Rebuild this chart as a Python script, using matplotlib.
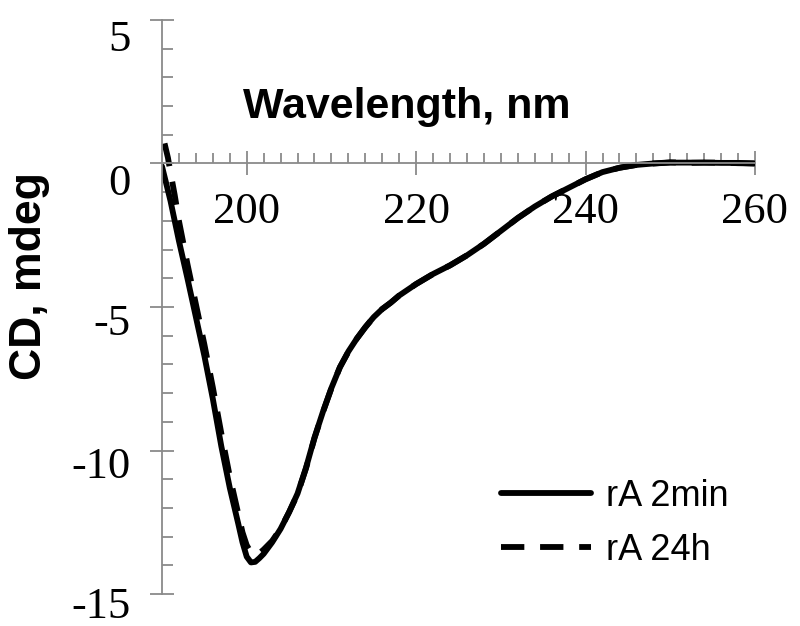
import numpy as np
import matplotlib
matplotlib.use("Agg")
import matplotlib.pyplot as plt
from matplotlib.ticker import MultipleLocator, FixedLocator
from matplotlib.transforms import ScaledTranslation

# CD spectra, wavelength in nm, ellipticity in mdeg
wl_2min = [190, 191, 192, 193, 194, 195, 196, 197, 198, 199, 199.5, 200, 200.5,
           201, 201.5, 202, 203, 204, 205, 206, 207, 208, 209, 210, 211, 212,
           213, 214, 215, 216, 217, 218, 219, 220, 222, 224, 226, 228, 230,
           232, 234, 236, 238, 240, 242, 244, 246, 248, 250, 252, 254, 256,
           258, 260]
cd_2min = [-0.1, -1.3, -2.7, -4.0, -5.35, -6.7, -8.2, -9.85, -11.3, -12.55, -13.2,
           -13.7, -13.9, -13.88, -13.75, -13.6, -13.2, -12.73, -12.15, -11.5,
           -10.6, -9.55, -8.65, -7.82, -7.1, -6.55, -6.1, -5.7, -5.35, -5.07,
           -4.85, -4.6, -4.4, -4.2, -3.85, -3.55, -3.2, -2.8, -2.35, -1.9, -1.5,
           -1.15, -0.85, -0.55, -0.3, -0.15, -0.05, 0.0, 0.03, 0.03, 0.03, 0.02,
           0.02, 0.0]

wl_24h = [190.3, 190.7, 191, 191.5, 192, 193, 194, 195, 196, 197, 198, 199, 199.5,
          200, 200.5, 201, 201.5, 202, 203, 204, 205, 206, 207, 208, 209, 210,
          211, 212, 213, 214, 215, 216, 217, 218, 219, 220, 222, 224, 226, 228,
          230, 232, 234, 236, 238, 240, 242, 244, 246, 248, 250, 252, 254, 256,
          258, 260]
cd_24h = [0.7, 0.2, -0.3, -1.1, -2.0, -3.5, -4.9, -6.3, -7.8, -9.4, -10.9, -12.2,
          -12.85, -13.3, -13.55, -13.62, -13.58, -13.45, -13.15, -12.72, -12.15,
          -11.52, -10.62, -9.57, -8.66, -7.83, -7.1, -6.56, -6.1, -5.71, -5.35,
          -5.07, -4.85, -4.6, -4.4, -4.2, -3.85, -3.55, -3.2, -2.8, -2.35, -1.9,
          -1.5, -1.15, -0.85, -0.55, -0.3, -0.15, -0.05, 0.0, 0.04, 0.02, 0.03,
          0.03, 0.01, 0.0]

y_ticks = [5, 0, -5, -10, -15]
y_labels = ["5", "0", "-5", "-10", "-15"]
x_ticks = [200, 220, 240, 260]

fig = plt.figure(figsize=(8, 6.26), dpi=100)
ax = fig.add_axes([0.2025, 0.0511, 0.74125, 0.917])

ax.plot(wl_2min, cd_2min, color="black", lw=4.2, solid_capstyle="round",
        label="rA 2min")
ax.plot(wl_24h, cd_24h, color="black", lw=4.2, dashes=(4, 2.7),
        label="rA 24h")

ax.set_xlim(190, 260)
ax.set_ylim(-15, 5)

axis_grey = "#8a8a8a"
for side in ("top", "right"):
    ax.spines[side].set_visible(False)
ax.spines["bottom"].set_position(("data", 0))
for side in ("bottom", "left"):
    ax.spines[side].set_color(axis_grey)
    ax.spines[side].set_linewidth(1.3)

ax.xaxis.set_major_locator(FixedLocator(x_ticks))
ax.xaxis.set_minor_locator(MultipleLocator(2))
ax.yaxis.set_major_locator(FixedLocator(y_ticks))
ax.yaxis.set_minor_locator(MultipleLocator(1))
ax.set_yticklabels(y_labels)

ax.tick_params(axis="x", which="major", direction="inout", length=17,
               width=1.3, color=axis_grey, pad=12)
ax.tick_params(axis="x", which="minor", direction="in", length=7,
               width=1.3, color=axis_grey)
ax.tick_params(axis="y", which="major", direction="inout", length=17,
               width=1.3, color=axis_grey, pad=14)
ax.tick_params(axis="y", which="minor", direction="in", length=8,
               width=1.3, color=axis_grey)

for lab in ax.get_xticklabels() + ax.get_yticklabels():
    lab.set_fontfamily("Liberation Serif")
    lab.set_fontsize(32)

# y labels hang a little below their ticks (the bottom one less, to stay on the page)
drops = [0.16, 0.16, 0.13, 0.12, 0.08]
for lab, d in zip(ax.get_yticklabels(), drops):
    lab.set_transform(lab.get_transform()
                      + ScaledTranslation(0, -d, fig.dpi_scale_trans))

fig.text(0.509, 0.812, "Wavelength, nm", ha="center", va="baseline",
         fontsize=31, fontweight="bold", family="Liberation Sans")
fig.text(0.0375, 0.559, "CD, mdeg", ha="center", va="center", rotation=90,
         fontsize=32, fontweight="bold", family="Liberation Sans")

ax.legend(loc="upper left", bbox_to_anchor=(0.626, 0.235),
          bbox_transform=fig.transFigure, frameon=False,
          prop={"family": "Liberation Sans", "size": 26},
          handlelength=2.5, handletextpad=0.4, labelspacing=0.52,
          borderpad=0, borderaxespad=0)

fig.savefig("out.png", dpi=100)
